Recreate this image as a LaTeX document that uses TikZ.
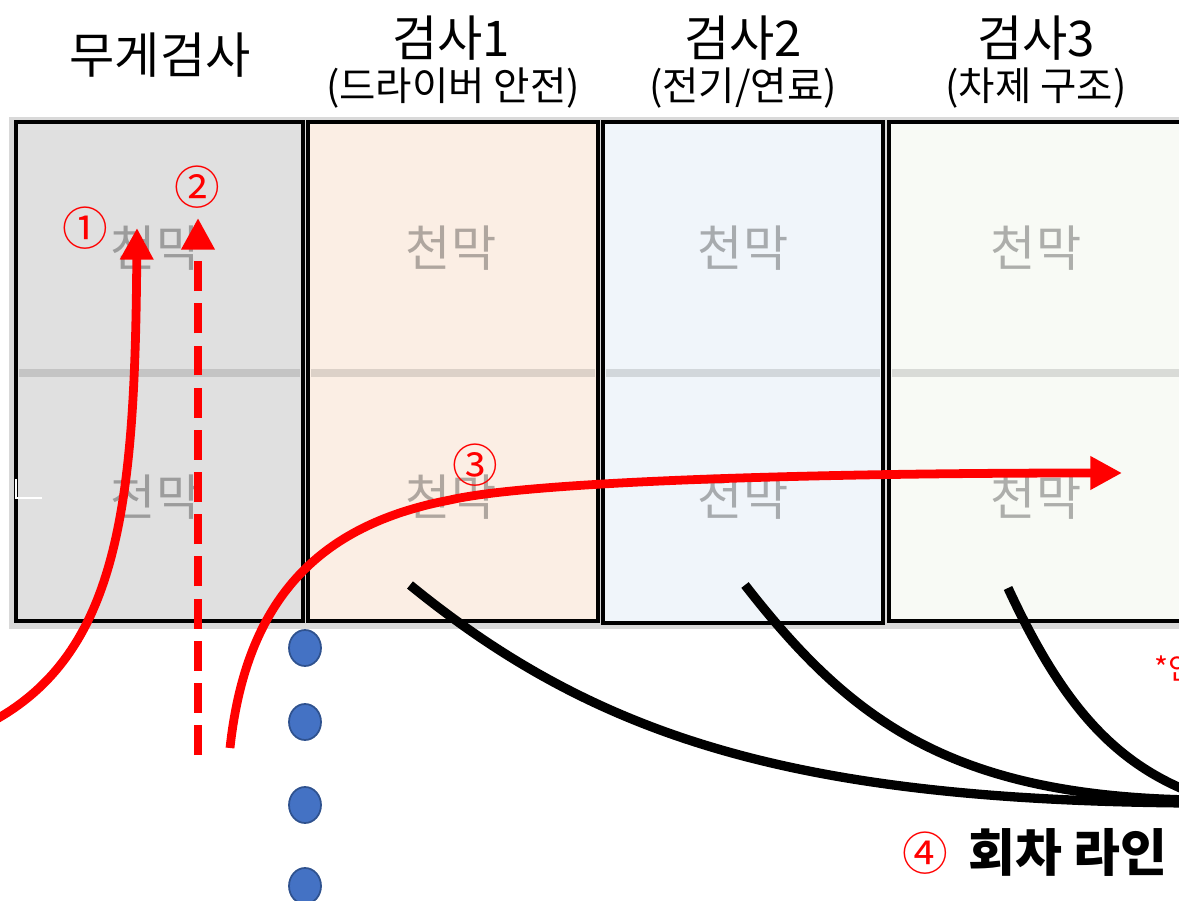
\documentclass[tikz,border=0pt]{standalone}
\usepackage{fontspec}
\setmainfont{Noto Sans CJK KR}
\usetikzlibrary{arrows.meta,shapes.geometric}
\definecolor{boxA}{HTML}{E0E0E0}
\definecolor{boxB}{HTML}{FBEEE4}
\definecolor{boxC}{HTML}{F0F5FA}
\definecolor{boxD}{HTML}{F8FAF5}
\definecolor{dotblue}{HTML}{4472C4}
\definecolor{dotedge}{HTML}{2F528F}
\newcommand{\fs}[1]{\fontsize{#1}{#1}\selectfont}

\begin{document}
\begin{tikzpicture}[x=0.02cm,y=-0.02cm,
    box/.style={draw=black,line width=2pt},
    seam/.style={draw=black,draw opacity=0.12,line width=4.5pt},
    tent/.style={text=black,text opacity=0.3,font=\fs{28}},
    title/.style={font=\fs{28}},
    sub/.style={font=\fs{22.5}},
    num/.style={text=red,font=\fs{26}},
    route/.style={draw=red,line width=5pt,-{Triangle[length=18pt,width=18pt]}},
    back/.style={draw=black,line width=5.3pt},
    stop/.style={ellipse,draw=dotedge,fill=dotblue,line width=1pt,minimum width=0.64cm,minimum height=0.72cm,inner sep=0pt}]
    \useasboundingbox (0,0) rectangle (1179,901);
    \clip (0,0) rectangle (1179,901);
    \fill[white] (0,0) rectangle (1179,901);
    \fill[black!15] (9,117) rectangle (1179,629);
    \draw[box,fill=boxA] (16,122) rectangle (303,621);
    \draw[box,fill=boxB] (308,122) rectangle (598,621);
    \draw[box,fill=boxC] (603,122) rectangle (883,623);
    \draw[box,fill=boxD] (889,122) rectangle (1190,621);
    \draw[seam] (19,373) -- (300,373);
    \draw[seam] (311,373) -- (595,373);
    \draw[seam] (606,373) -- (880,373);
    \draw[seam] (892,373) -- (1179,373);
    \draw[white,line width=1.7pt] (16,479) -- (16,498) -- (42,498);

    \node[title] (H0) at (160,55) {무게검사};
    \node[title] (H1) at (451,38) {검사1};
    \node[title] (H2) at (743,38) {검사2};
    \node[title] (H3) at (1036,38) {검사3};
    \node[sub] (S1) at (453,88) {(드라이버 안전)};
    \node[sub] (S2) at (743,88) {(전기/연료)};
    \node[sub] (S3) at (1036,88) {(차제 구조)};

    \node[tent] (T0a) at (156,248) {천막};
    \node[tent] (T0b) at (156,497) {천막};
    \node[tent] (T1a) at (451,248) {천막};
    \node[tent] (T1b) at (451,497) {천막};
    \node[tent] (T2a) at (743,248) {천막};
    \node[tent] (T2b) at (743,497) {천막};
    \node[tent] (T3a) at (1036,248) {천막};
    \node[tent] (T3b) at (1036,497) {천막};

    \node[stop] (P1) at (305,648) {};
    \node[stop] (P2) at (305,722) {};
    \node[stop] (P3) at (305,805) {};
    \node[stop] (P4) at (305,886) {};

    \coordinate (R1s) at (410,585);
    \coordinate (R2s) at (745,585);
    \coordinate (R3s) at (1008,588);
    \coordinate (R1e) at (1190,803);
    \coordinate (R2e) at (1190,800);
    \coordinate (R3e) at (1190,792);
    \draw[back] (R1s) .. controls (600,740) and (800,800) .. (R1e);
    \draw[back] (R2s) .. controls (850,720) and (950,795) .. (R2e);
    \draw[back] (R3s) .. controls (1060,700) and (1110,760) .. (R3e);

    \coordinate (A1s) at (-5,720);
    \coordinate (A1e) at (137,228);
    \coordinate (A2s) at (198,755);
    \coordinate (A2e) at (198,218);
    \coordinate (A3s) at (230,748);
    \coordinate (A3e) at (1122,473);
    \draw[route] (A1s) .. controls (120,650) and (135,500) .. (A1e);
    \draw[route,dash pattern=on 17pt off 7pt] (A2s) -- (A2e);
    \draw[route] (A3s) .. controls (246,600) and (318,525) .. (450,500)
        .. controls (528,482) and (800,473) .. (A3e);

    \node[num] (N1) at (85,228) {①};
    \node[num] (N2) at (197,187) {②};
    \node[num] (N3) at (475,465) {③};
    \node[num] (N4) at (925,853) {④};
    \node[font=\fs{29}\bfseries,anchor=west] (L4) at (962,852) {회차 라인};
    \node[text=red,font=\fs{17},anchor=west] (NB) at (1148,668) {*안};
\end{tikzpicture}
\end{document}
